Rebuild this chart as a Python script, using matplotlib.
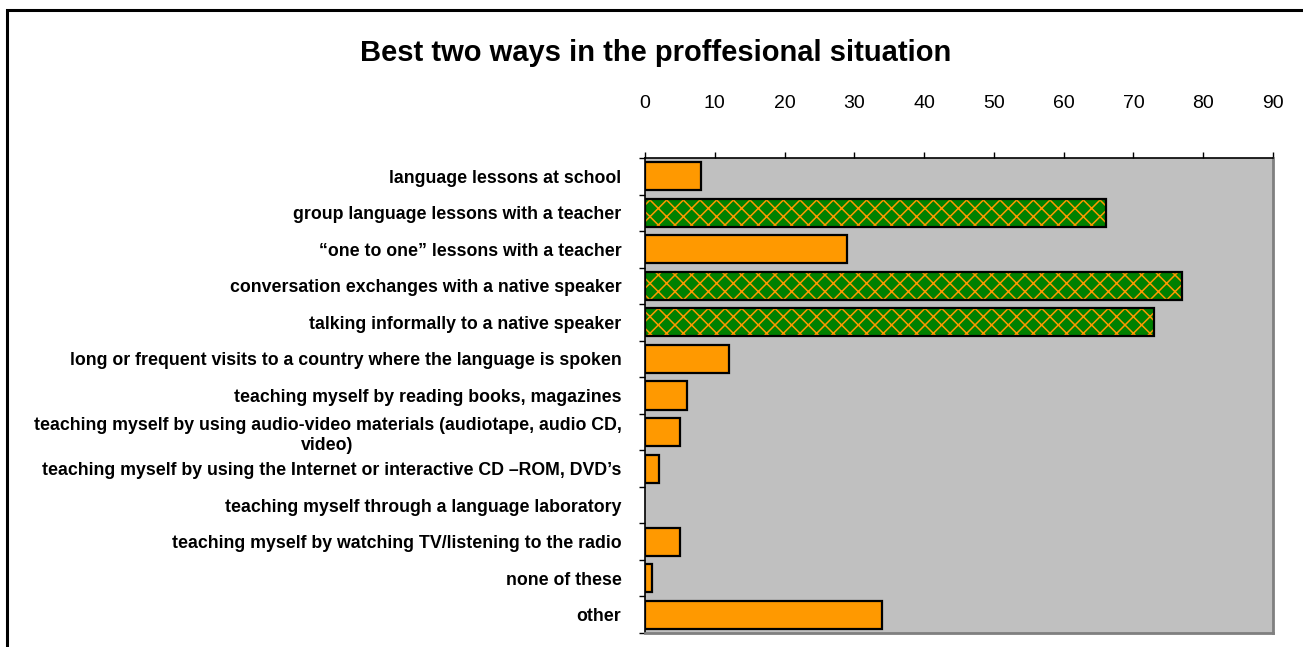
import matplotlib
matplotlib.use("Agg")
import matplotlib.pyplot as plt
from matplotlib.patches import Rectangle
from matplotlib.ticker import FixedLocator

plt.rcParams['font.family'] = ['Liberation Sans', 'DejaVu Sans']
plt.rcParams['hatch.linewidth'] = 1.1

title = "Best two ways in the proffesional situation"
categories = [
    "language lessons at school",
    "group language lessons with a teacher",
    "\u201cone to one\u201d lessons with a teacher",
    "conversation exchanges with a native speaker",
    "talking informally to a native speaker",
    "long or frequent visits to a country where the language is spoken",
    "teaching myself by reading books, magazines",
    "teaching myself by using audio-video materials (audiotape, audio CD,\nvideo)",
    "teaching myself by using the Internet or interactive CD \u2013ROM, DVD\u2019s",
    "teaching myself through a language laboratory",
    "teaching myself by watching TV/listening to the radio",
    "none of these",
    "other",
]
values = [8, 66, 29, 77, 73, 12, 6, 5, 2, 0, 5, 1, 34]
highlighted = [False, True, False, True, True, False, False, False, False, False, False, False, False]
x_ticks = [0, 10, 20, 30, 40, 50, 60, 70, 80, 90]

ORANGE = "#FF9900"
GREEN = "#008000"

fig = plt.figure(figsize=(13.03, 6.47), dpi=100)
ax = fig.add_axes([645 / 1303, 1 - 633 / 647, (1273 - 645) / 1303, (633 - 158) / 647])
ax.set_facecolor("#C0C0C0")

pos = list(range(len(categories)))
bar_h = 0.77
for y, v, hl in zip(pos, values, highlighted):
    if v <= 0:
        continue
    if hl:
        ax.barh(y, v, height=bar_h, color=GREEN, edgecolor=ORANGE, hatch="xx", linewidth=0, zorder=2)
        ax.barh(y, v, height=bar_h, color="none", edgecolor="black", linewidth=1.6, zorder=3)
    else:
        ax.barh(y, v, height=bar_h, color=ORANGE, edgecolor="black", linewidth=1.6, zorder=3)

ax.set_xlim(0, 90)
ax.set_ylim(len(categories) - 0.5, -0.5)

# value axis on top
ax.xaxis.tick_top()
ax.set_xticks(x_ticks)
ax.set_xticklabels([str(t) for t in x_ticks], fontsize=14)
ax.tick_params(axis="x", direction="out", length=4, width=1, pad=29, color="black")

# category axis: labels at centers, tick marks at row boundaries
ax.set_yticks(pos)
ax.set_yticklabels(categories, fontsize=12.8, fontweight="bold")
ax.tick_params(axis="y", which="major", length=0, pad=17)
ax.yaxis.set_minor_locator(FixedLocator([p - 0.5 for p in range(len(categories) + 1)]))
ax.tick_params(axis="y", which="minor", direction="out", length=4, width=1, color="black")
for lab in ax.get_yticklabels():
    lab.set_multialignment("center")
    lab.set_linespacing(1.2)

for side in ("left", "top"):
    ax.spines[side].set_color("black")
    ax.spines[side].set_linewidth(1.2)
for side in ("right", "bottom"):
    ax.spines[side].set_color("#808080")
    ax.spines[side].set_linewidth(2)

fig.text(656 / 1303, 1 - 53 / 647, title, ha="center", va="center",
         fontsize=21, fontweight="bold")

# chart area border
fig.patches.append(Rectangle((7 / 1303, -0.1), 1.2, 1 - 10 / 647 + 0.1,
                             transform=fig.transFigure, fill=False,
                             edgecolor="black", linewidth=2.2, zorder=0))

fig.savefig("out.png", dpi=100)
